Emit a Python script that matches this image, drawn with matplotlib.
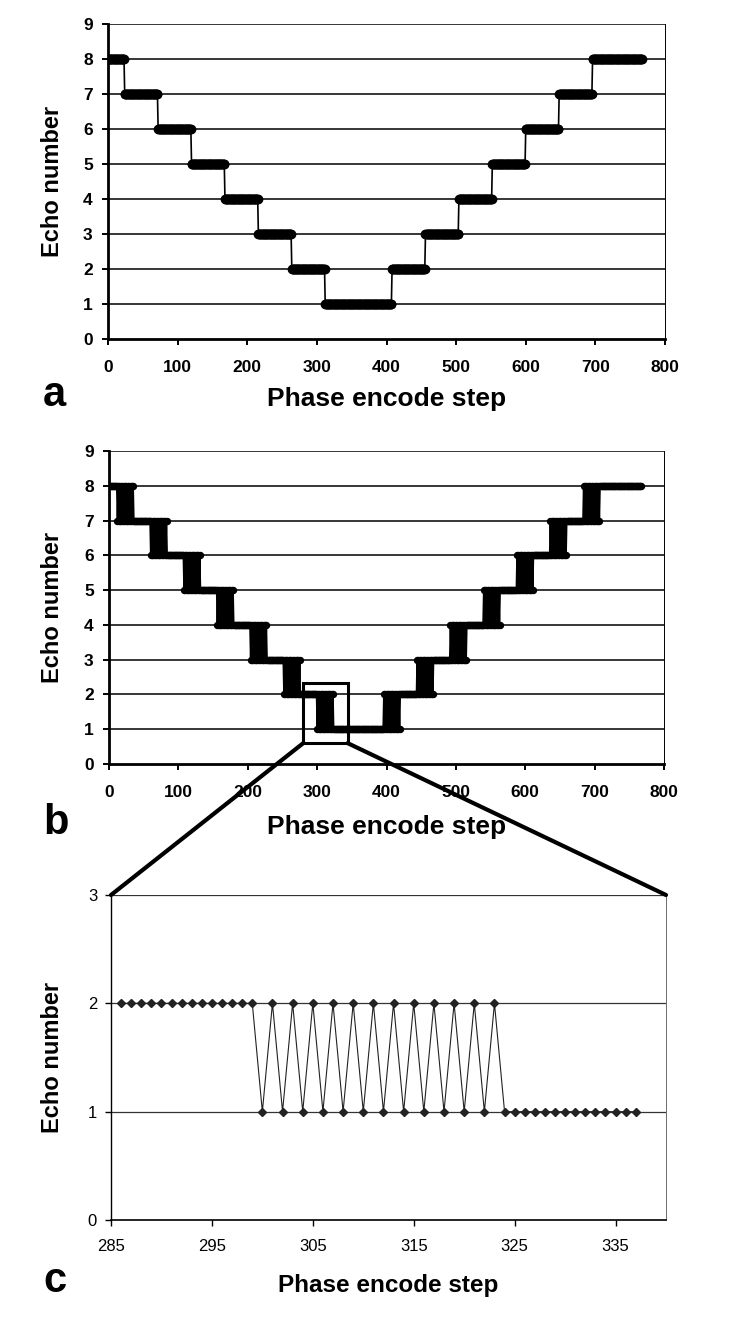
import matplotlib

matplotlib.use("Agg")
import matplotlib.pyplot as plt
import numpy as np
from matplotlib.patches import Rectangle, ConnectionPatch

# panels a/b: first phase encode step of each block and the echo used there
block_start = [0, 24, 72, 120, 168, 216, 264, 312, 408, 456, 504, 552, 600, 648, 696]
block_echo = [8, 7, 6, 5, 4, 3, 2, 1, 2, 3, 4, 5, 6, 7, 8]
n_steps = 768
mix_half = 12  # (b): steps either side of a block edge where the two echoes alternate

# panel c: close-up of (b) around the 2 -> 1 edge
c_step = list(range(286, 338))
c_echo = [2] * 14 + [1, 2] * 12 + [1] * 14

ab_xticks = [0, 100, 200, 300, 400, 500, 600, 700, 800]
ab_yticks = [0, 1, 2, 3, 4, 5, 6, 7, 8, 9]
c_xticks = [285, 295, 305, 315, 325, 335]
c_yticks = [0, 1, 2, 3]
zoom_box = (280, 344, 0.6, 2.33)  # x0, x1, y0, y1 in (b) data units

W, H = 754, 1325
plt.rcParams["font.family"] = ["Liberation Sans", "DejaVu Sans"]
NARROW = ["Liberation Sans Narrow", "Liberation Sans", "DejaVu Sans"]


def rect(left, top, right, bottom):
    return [left / W, 1 - bottom / H, (right - left) / W, (bottom - top) / H]


def fig_xy(x, y):
    return x / W, 1 - y / H


steps = np.arange(n_steps)
idx = np.searchsorted(block_start, steps, side="right") - 1
echo_a = np.array(block_echo)[idx]
echo_b = echo_a.copy()
for k in range(1, len(block_start)):
    edge = block_start[k]
    for s in range(edge - mix_half, edge + mix_half):
        echo_b[s] = block_echo[k - 1] if (s - edge) % 2 else block_echo[k]

fig = plt.figure(figsize=(W / 100, H / 100), dpi=100)
ax_a = fig.add_axes(rect(108, 24, 665, 339))
ax_b = fig.add_axes(rect(109, 451, 664, 764))
ax_c = fig.add_axes(rect(111, 895, 666, 1220))


def style_ab(ax):
    ax.set_xlim(0, 800)
    ax.set_ylim(0, 9)
    ax.set_xticks(ab_xticks)
    ax.set_yticks(ab_yticks)
    for y in ab_yticks[1:]:
        ax.axhline(y, color="black", lw=1.1, zorder=1)
    ax.spines["left"].set_linewidth(2.0)
    ax.spines["bottom"].set_linewidth(2.0)
    ax.spines["right"].set_linewidth(0.7)
    ax.spines["top"].set_visible(False)
    ax.tick_params(axis="x", direction="out", length=4, width=1.4, pad=11)
    ax.tick_params(axis="y", direction="out", length=4, width=1.4, pad=7)
    for lab in ax.get_xticklabels() + ax.get_yticklabels():
        lab.set_fontsize(12.5)
        lab.set_fontweight("bold")


style_ab(ax_a)
ax_a.plot(steps, echo_a, color="black", lw=1.2, marker="o", ms=6, zorder=3)

style_ab(ax_b)
ax_b.plot(steps, echo_b, color="black", lw=1.0, marker="o", ms=4.3, zorder=3)
x0, x1, y0, y1 = zoom_box
ax_b.add_patch(Rectangle((x0, y0), x1 - x0, y1 - y0, fill=False, ec="black",
                         lw=2.2, zorder=5, clip_on=False))

ax_c.set_xlim(285, 340)
ax_c.set_ylim(0, 3)
ax_c.set_xticks(c_xticks)
ax_c.set_yticks(c_yticks)
for y in c_yticks[1:]:
    ax_c.axhline(y, color="#333333", lw=0.9, zorder=1)
ax_c.spines["top"].set_visible(False)
ax_c.spines["right"].set_linewidth(0.6)
ax_c.spines["right"].set_color("#555555")
ax_c.spines["left"].set_linewidth(1.0)
ax_c.spines["bottom"].set_linewidth(1.2)
ax_c.tick_params(axis="x", direction="out", length=4, width=1.0, pad=10, labelsize=12)
ax_c.tick_params(axis="y", direction="out", length=4, width=1.0, pad=6, labelsize=12)
ax_c.plot(c_step, c_echo, color="#222222", lw=0.8, marker="D", ms=4.5, zorder=3)

# lines from the box in (b) to the corners of (c)
for bx, cx in [(x0, 0), (x1, 1)]:
    con = ConnectionPatch(xyA=(bx, y0), coordsA=ax_b.transData,
                          xyB=(cx, 1), coordsB=ax_c.transAxes,
                          color="black", lw=3.0, zorder=6)
    fig.add_artist(con)

for ax, letter, base, xl_size, xl_family in [
    (ax_a, "a", 406, 19, None),
    (ax_b, "b", 834, 19, None),
    (ax_c, "c", 1292, 17.5, NARROW),
]:
    fig.text(*fig_xy(43, base), letter, fontsize=30, fontweight="bold",
             ha="left", va="baseline")
    pos = ax.get_position()
    kw = {"family": xl_family} if xl_family else {}
    fig.text((pos.x0 + pos.x1) / 2, fig_xy(0, base)[1], "Phase encode step",
             fontsize=xl_size, fontweight="bold", ha="center", va="baseline", **kw)
    fig.text(fig_xy(53, 0)[0], (pos.y0 + pos.y1) / 2, "Echo number",
             fontsize=17, fontweight="bold", rotation=90, ha="center", va="center")

fig.savefig("out.png", dpi=100)
plt.close(fig)
